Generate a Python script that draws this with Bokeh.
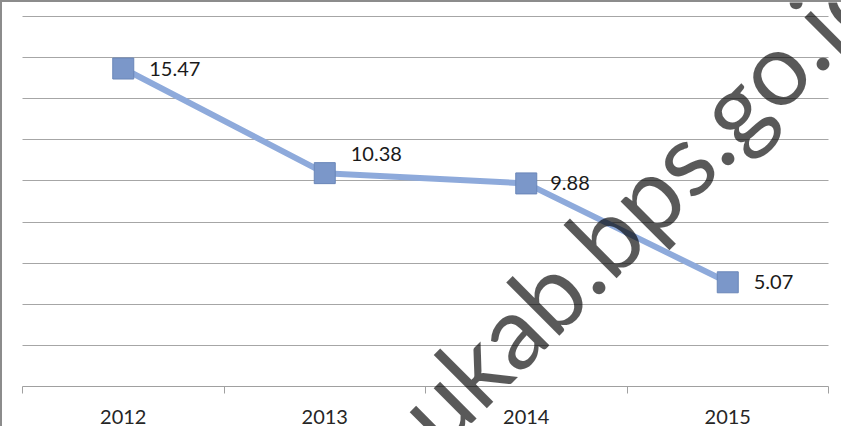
from bokeh.plotting import figure
from bokeh.models import Range1d, FixedTicker, ColumnDataSource, Label
from bokeh.core.properties import value
from bokeh.embed import file_html
from bokeh.resources import INLINE

# ---- data ----
years = ["2012", "2013", "2014", "2015"]
rates = [15.47, 10.38, 9.88, 5.07]
rate_labels = ["15.47", "10.38", "9.88", "5.07"]
grid_levels = [2, 4, 6, 8, 10, 12, 14, 16, 18]
y_top = 18
watermark = "ukab.bps.go.id"

# ---- layout / style ----
W, H = 841, 426
pad_l, pad_r, pad_t, pad_b = 20, 15, 14, 42
label_dx = [26, 26, 24, 26]
label_dy = [0, -19, 0, 0]

n = len(years)
xu = n / (W - pad_l - pad_r)
yu = y_top / (H - pad_t - pad_b)

xpos = [i + 0.5 for i in range(n)]
src = ColumnDataSource(dict(x=xpos, y=rates, lab=rate_labels, dx=label_dx, dy=label_dy))

p = figure(width=W, height=H,
           x_range=Range1d(-pad_l * xu, n + pad_r * xu),
           y_range=Range1d(-pad_b * yu, y_top + pad_t * yu),
           output_backend="svg", toolbar_location=None,
           min_border_left=0, min_border_right=0, min_border_top=0, min_border_bottom=0)
p.background_fill_color = "white"
p.border_fill_color = "white"
p.outline_line_color = None
p.styles = {"border-top": "2px solid #8c8c8c", "border-left": "2px solid #8c8c8c"}

p.yaxis.visible = False
p.xgrid.visible = False
p.ygrid.ticker = FixedTicker(ticks=grid_levels)
p.ygrid.cross_bounds = (0, n)
p.ygrid.grid_line_color = "#a6a6a6"
p.ygrid.grid_line_width = 1

ax = p.xaxis[0]
ax.fixed_location = 0
ax.bounds = (0, n)
ax.ticker = FixedTicker(ticks=xpos, minor_ticks=list(range(n + 1)))
ax.major_label_overrides = {x: y for x, y in zip(xpos, years)}
ax.axis_line_color = "#a0a0a0"
ax.major_tick_line_alpha = 0
ax.major_tick_out = 0
ax.major_tick_in = 0
ax.minor_tick_line_color = "#a0a0a0"
ax.minor_tick_out = 7
ax.minor_tick_in = 0
ax.major_label_standoff = 16
ax.major_label_text_font = "Lato"
ax.major_label_text_font_size = "20px"
ax.major_label_text_color = "#262626"

p.line("x", "y", source=src, line_color="#8eaadb", line_width=6)
p.scatter("x", "y", source=src, marker="square", size=21,
          fill_color="#7b97c9", line_color="#6a86b8", line_width=1)

wm = Label(x=411, y=3, x_units="screen", y_units="screen", text=watermark,
           angle=45, angle_units="deg", text_font="Lato", text_font_size="102px",
           text_color="black", text_alpha=0.65, text_baseline="alphabetic")
p.add_layout(wm)

p.text("x", "y", text="lab", source=src, x_offset="dx", y_offset="dy",
       text_font=value("Lato"), text_font_size="20px", text_color="#1a1a1a",
       text_baseline="middle", text_align="left")

open("out.html", "w").write(file_html(p, INLINE))
